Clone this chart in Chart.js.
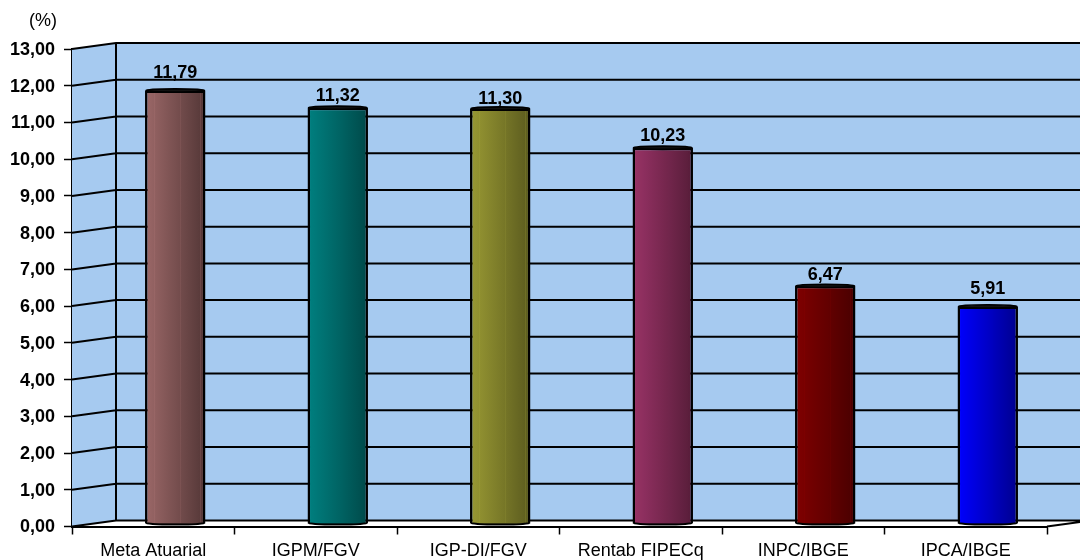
<!DOCTYPE html>
<html><head><meta charset="utf-8">
<style>html,body{margin:0;padding:0;background:#fff}#w{position:relative;width:1080px;height:560px}</style>
<script src="https://cdn.jsdelivr.net/npm/chart.js@4"></script>
</head><body><div id="w"><canvas id="c" width="1080" height="560"></canvas></div>
<script>
const categories = ["Meta Atuarial","IGPM/FGV","IGP-DI/FGV","Rentab FIPECq","INPC/IBGE","IPCA/IBGE"];
const values = [11.79,11.32,11.30,10.23,6.47,5.91];
const lightColors = ["#9c6868","#008080","#999933","#993366","#800000","#0000ff"];
const darkColors = ["#553838","#004a4a","#5c5c1f","#581d3a","#4a0000","#000090"];
const labelLift = [17.5,11.7,9.9,11.7,10.9,17.4];
const unitLabel = "(%)";
const yMax = 13;
const DX = 44, DY = -6;
const FONT = '"Liberation Sans", Arial, sans-serif';
const fmt = v => Number(v).toFixed(2).replace('.', ',');
function mix(a,b,t){
  const p=h=>[1,3,5].map(i=>parseInt(h.substr(i,2),16));
  const A=p(a),B=p(b);
  return 'rgb('+A.map((x,i)=>Math.round(x+(B[i]-x)*t)).join(',')+')';
}
function grad(ctx){
  const chart=ctx.chart, i=ctx.dataIndex;
  if(!chart.chartArea||i===undefined) return lightColors[0];
  const s=chart.scales.x, cx=s.getPixelForValue(i), w=(s.getPixelForValue(1)-s.getPixelForValue(0))*0.372/2;
  const g=chart.ctx.createLinearGradient(cx-w,0,cx+w,0);
  const a=lightColors[i], b=darkColors[i];
  const seg=(at,t)=>g.addColorStop(at,mix(a,b,t));
  seg(0,0); seg(0.15,0.15); seg(0.155,0.03); seg(0.165,0.17);
  seg(0.58,0.58); seg(0.585,0.42); seg(0.595,0.6);
  seg(0.91,0.93); seg(0.915,0.6); seg(0.925,0.95); seg(1,1);
  return g;
}
const walls = {
  id:'walls',
  beforeDatasetsDraw(chart){
    const {ctx,scales:{x,y}}=chart;
    const L=x.left,R=x.right,T=y.getPixelForValue(yMax),B=y.getPixelForValue(0);
    ctx.save();
    ctx.fillStyle='#a6caf0';
    ctx.fillRect(L+DX,T+DY,1080-L-DX,B-T);
    ctx.beginPath();ctx.moveTo(L,T);ctx.lineTo(L+DX,T+DY);ctx.lineTo(L+DX,B+DY);ctx.lineTo(L,B);ctx.closePath();ctx.fill();
    ctx.strokeStyle='#000';ctx.lineWidth=2;
    ctx.beginPath();
    for(let v=0;v<=yMax;v++){
      const p=y.getPixelForValue(v);
      ctx.moveTo(L,p);ctx.lineTo(L+DX,p+DY);ctx.lineTo(1080,p+DY);
    }
    ctx.moveTo(L+DX,T+DY);ctx.lineTo(L+DX,B+DY);
    ctx.moveTo(R,B);ctx.lineTo(R+DX,B+DY);
    ctx.stroke();
    ctx.fillStyle='#000';ctx.font='18px '+FONT;ctx.textAlign='center';ctx.textBaseline='middle';
    ctx.fillText(unitLabel,43,21);
    ctx.restore();
    ctx.save();
    ctx.translate(DX/2,DY/2);
  },
  afterDatasetsDraw(chart){
    const {ctx}=chart;
    const meta=chart.getDatasetMeta(0);
    const base=chart.scales.y.getPixelForValue(0);
    meta.data.forEach((el,i)=>{
      const w=el.width/2-1;
      ctx.beginPath();ctx.ellipse(el.x,base-0.5,w,1.6,0,0,Math.PI);
      ctx.fillStyle=darkColors[i];ctx.fill();
      ctx.strokeStyle='#000';ctx.lineWidth=2;ctx.stroke();
      ctx.beginPath();ctx.ellipse(el.x,el.y,w,1.6,0,0,Math.PI*2);
      ctx.fillStyle='#111';ctx.fill();ctx.lineWidth=1.6;ctx.stroke();
    });
    ctx.restore();
    ctx.save();
    ctx.fillStyle='#000';ctx.font='bold 18px '+FONT;ctx.textAlign='center';ctx.textBaseline='middle';
    meta.data.forEach((el,i)=>ctx.fillText(fmt(values[i]),el.x+DX/2,el.y+DY/2-labelLift[i]));
    ctx.restore();
  }
};
new Chart(document.getElementById('c'),{
  type:'bar',
  data:{labels:categories,datasets:[{data:values,backgroundColor:grad,borderColor:'#000',borderWidth:2.5,barPercentage:0.372,categoryPercentage:1}]},
  options:{
    responsive:false,animation:false,
    layout:{padding:{left:0,top:49,right:33,bottom:0}},
    plugins:{legend:{display:false},tooltip:{enabled:false}},
    scales:{
      x:{
        afterFit(s){s.height=33.5;},
        grid:{display:true,offset:true,drawOnChartArea:false,drawTicks:true,tickLength:8,tickColor:'#000',tickWidth:1.5},
        border:{display:true,color:'#000',width:2},
        ticks:{color:'#000',font:{family:FONT,size:18},padding:6,maxRotation:0,autoSkip:false}
      },
      y:{
        min:0,max:yMax,
        afterFit(s){s.width=72;},
        grid:{display:true,drawOnChartArea:false,drawTicks:true,tickLength:8,tickColor:'#000',tickWidth:1.5},
        border:{display:true,color:'#000',width:2},
        ticks:{stepSize:1,color:'#000',font:{family:FONT,size:18,weight:'bold',lineHeight:'2px'},padding:9,callback:v=>['',fmt(v)]}
      }
    }
  },
  plugins:[walls]
});
</script></body></html>
